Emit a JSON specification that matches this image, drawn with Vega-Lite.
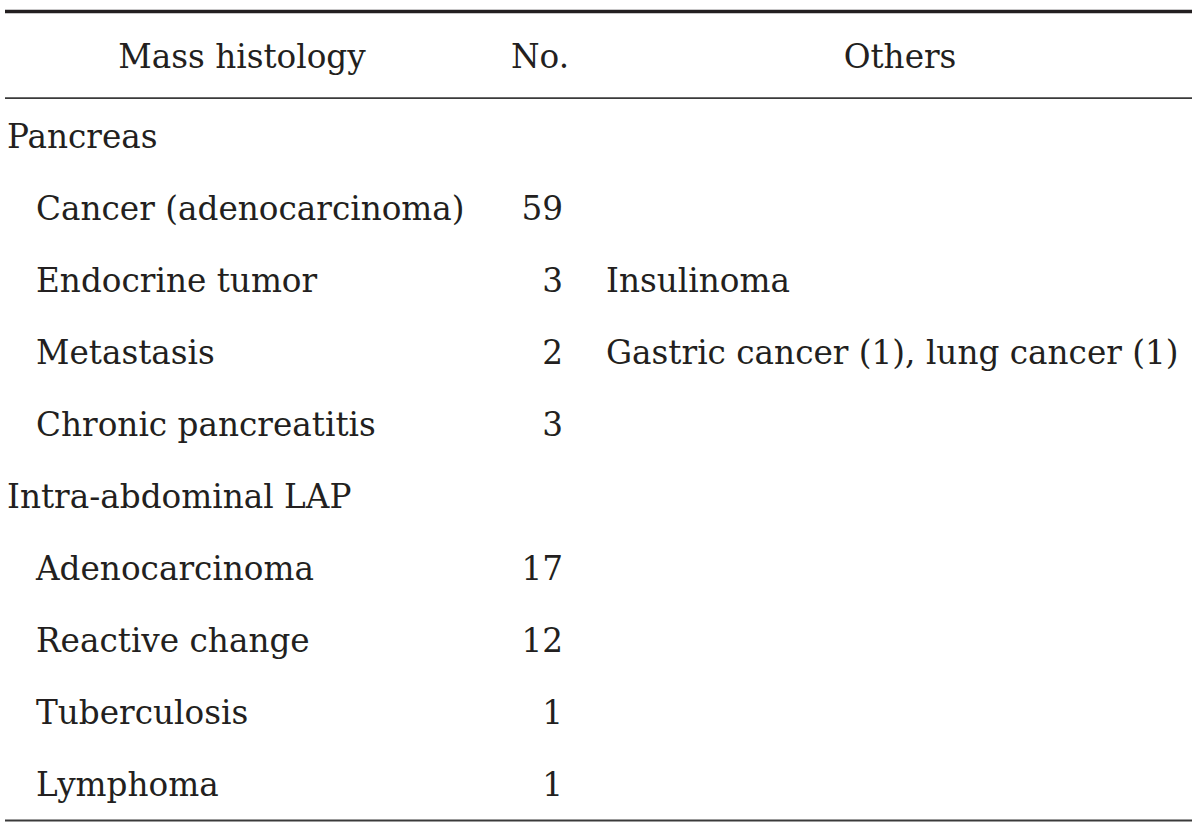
{
  "$schema": "https://vega.github.io/schema/vega-lite/v6.json",
  "width": 1200,
  "height": 834,
  "padding": 0,
  "autosize": {"type": "fit", "contains": "padding"},
  "background": "white",
  "config": {"view": {"stroke": null}, "text": {"font": "DejaVu Serif", "fontSize": 32.7, "color": "#231f20", "baseline": "alphabetic"}},
  "datasets": {
    "rows": [
      {"row": 1, "kind": "cat", "label": "Pancreas", "no": "", "others": ""},
      {"row": 2, "kind": "item", "label": "Cancer (adenocarcinoma)", "no": "59", "others": ""},
      {"row": 3, "kind": "item", "label": "Endocrine tumor", "no": "3", "others": "Insulinoma"},
      {"row": 4, "kind": "item", "label": "Metastasis", "no": "2", "others": "Gastric cancer (1), lung cancer (1)"},
      {"row": 5, "kind": "item", "label": "Chronic pancreatitis", "no": "3", "others": ""},
      {"row": 6, "kind": "cat", "label": "Intra-abdominal LAP", "no": "", "others": ""},
      {"row": 7, "kind": "item", "label": "Adenocarcinoma", "no": "17", "others": ""},
      {"row": 8, "kind": "item", "label": "Reactive change", "no": "12", "others": ""},
      {"row": 9, "kind": "item", "label": "Tuberculosis", "no": "1", "others": ""},
      {"row": 10, "kind": "item", "label": "Lymphoma", "no": "1", "others": ""}
    ],
    "header": [
      {"row": 0, "h1": "Mass histology", "h2": "No.", "h3": "Others"}
    ],
    "rules": [
      {"line": "top", "pos": -0.896},
      {"line": "head", "pos": 0.306},
      {"line": "bottom", "pos": 10.34}
    ]
  },
  "resolve": {"scale": {"x": "shared", "y": "shared"}},
  "layer": [
    {
      "data": {"name": "rules"},
      "transform": [{"filter": "datum.line === 'top'"}],
      "mark": {"type": "rule", "color": "#231f20", "strokeWidth": 3.5},
      "encoding": {
        "y": {"field": "pos", "type": "quantitative", "axis": null,
              "scale": {"domain": [-1.0556, 10.5278], "reverse": true, "zero": false, "nice": false}},
        "x": {"datum": 5, "type": "quantitative", "axis": null, "scale": {"domain": [0, 1200], "nice": false, "zero": false}},
        "x2": {"datum": 1192}
      }
    },
    {
      "data": {"name": "rules"},
      "transform": [{"filter": "datum.line !== 'top'"}],
      "mark": {"type": "rule", "color": "#3a3a3a", "strokeWidth": 1.8},
      "encoding": {
        "y": {"field": "pos", "type": "quantitative"},
        "x": {"datum": 5, "type": "quantitative"},
        "x2": {"datum": 1192}
      }
    },
    {
      "data": {"name": "header"},
      "mark": {"type": "text", "align": "center", "yOffset": -8},
      "encoding": {"y": {"field": "row", "type": "quantitative"}, "x": {"datum": 242, "type": "quantitative"}, "text": {"field": "h1"}}
    },
    {
      "data": {"name": "header"},
      "mark": {"type": "text", "align": "center", "yOffset": -8},
      "encoding": {"y": {"field": "row", "type": "quantitative"}, "x": {"datum": 540, "type": "quantitative"}, "text": {"field": "h2"}}
    },
    {
      "data": {"name": "header"},
      "mark": {"type": "text", "align": "center", "yOffset": -8},
      "encoding": {"y": {"field": "row", "type": "quantitative"}, "x": {"datum": 900, "type": "quantitative"}, "text": {"field": "h3"}}
    },
    {
      "data": {"name": "rows"},
      "transform": [{"filter": "datum.kind === 'cat'"}],
      "mark": {"type": "text", "align": "left"},
      "encoding": {"y": {"field": "row", "type": "quantitative"}, "x": {"datum": 7, "type": "quantitative"}, "text": {"field": "label"}}
    },
    {
      "data": {"name": "rows"},
      "transform": [{"filter": "datum.kind === 'item'"}],
      "mark": {"type": "text", "align": "left"},
      "encoding": {"y": {"field": "row", "type": "quantitative"}, "x": {"datum": 36, "type": "quantitative"}, "text": {"field": "label"}}
    },
    {
      "data": {"name": "rows"},
      "transform": [{"filter": "datum.kind === 'item'"}],
      "mark": {"type": "text", "align": "right"},
      "encoding": {"y": {"field": "row", "type": "quantitative"}, "x": {"datum": 563, "type": "quantitative"}, "text": {"field": "no"}}
    },
    {
      "data": {"name": "rows"},
      "transform": [{"filter": "datum.others !== ''"}],
      "mark": {"type": "text", "align": "left"},
      "encoding": {"y": {"field": "row", "type": "quantitative"}, "x": {"datum": 606, "type": "quantitative"}, "text": {"field": "others"}}
    }
  ]
}
